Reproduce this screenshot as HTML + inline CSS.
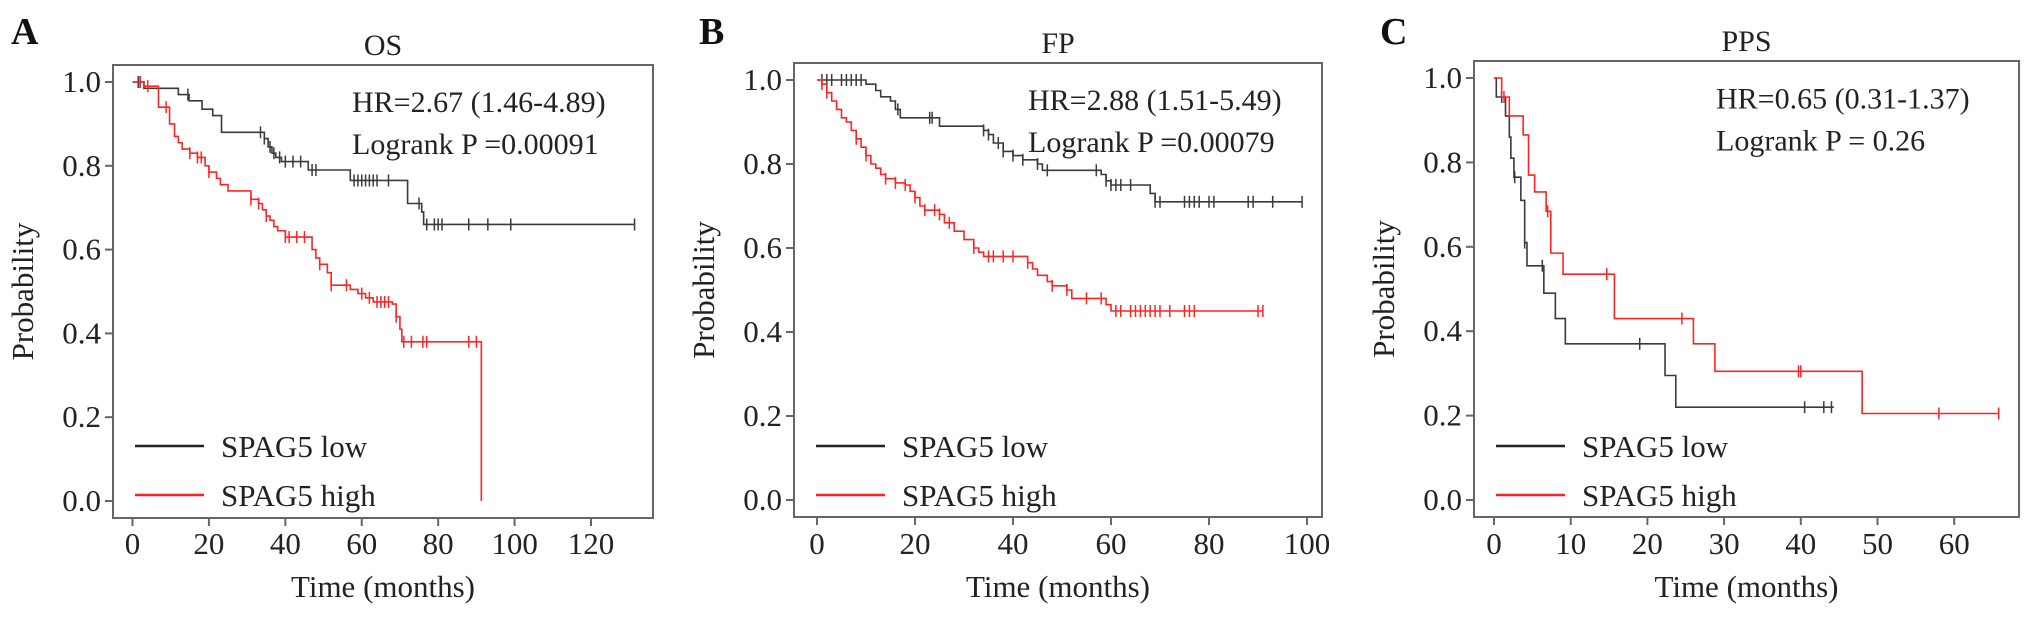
<!DOCTYPE html>
<html><head><meta charset="utf-8">
<style>
html,body{margin:0;padding:0;background:#fff;}
svg{display:block;font-family:"Liberation Serif",serif;}
</style></head>
<body>
<svg id="fig" width="2031" height="624" viewBox="0 0 2031 624" xmlns="http://www.w3.org/2000/svg"></svg>
<script>
// ---------- Panel A (OS) data ----------
const aLowTimes = [0,3,12,14.8,18.2,21,23.3,34.5,35.5,36.5,37.5,39,46,57,72,75.7,76.2];
const aLowSurv  = [1,0.985,0.97,0.955,0.935,0.92,0.88,0.865,0.845,0.83,0.82,0.81,0.79,0.765,0.71,0.69,0.66];
const aLowEnd = 131.4;
const aLowCens = [1.5,2,14.5,33.5,34.5,36,37,38.5,40,42,44,47,48,58,59,60,61,62,63,64,67,75,77,79,80,81,88,93,99,131.4];
const aHighTimes = [0,3,6.8,9.7,11,12,13,15,17,19,20,22,23,25,31,33,34,35,36,37,38,40,47,48,49,51,52,57,59,61,63,68,69,70,70.5,91.3];
const aHighSurv  = [1,0.99,0.94,0.9,0.87,0.855,0.84,0.83,0.82,0.8,0.785,0.77,0.755,0.74,0.72,0.71,0.695,0.68,0.67,0.655,0.645,0.63,0.6,0.58,0.565,0.545,0.515,0.505,0.495,0.485,0.475,0.47,0.44,0.41,0.38,0];
const aHighEnd = 91.3;
const aHighCens = [2,4,8.8,15,17,18,20,31,33,35,40,41,43,45,49,52,56,60,62,64,65,66,67,69,71,73,76,77,88,90];

// ---------- Panel B (FP) data ----------
const bLowTimes = [0,10,12,13,15,16,17,25,34,35,36,38,40,42,45,46,58,59,60,68,69];
const bLowSurv  = [1,0.99,0.975,0.96,0.95,0.93,0.91,0.89,0.88,0.87,0.85,0.83,0.82,0.81,0.8,0.785,0.775,0.76,0.75,0.73,0.71];
const bLowEnd = 99;
const bLowCens = [1,2,3,5,6,7,8,9,16.5,23,23.5,34,35,37,38,40,42,45,47,57,59,60,61,62,64,69,70,75,76,77,78,80,81,88,89,93,99];
const bHighTimes = [0,1,2,3,4,5,6,7,8,9,10,11,12,13,14,16,18,19,20,21,22,25,26,28,30,32,33,34,43,44,45,47,48,51,52,59,60];
const bHighSurv  = [1,0.99,0.97,0.95,0.93,0.91,0.9,0.88,0.86,0.84,0.82,0.8,0.79,0.775,0.765,0.755,0.75,0.735,0.72,0.7,0.69,0.68,0.66,0.64,0.62,0.6,0.59,0.58,0.565,0.55,0.535,0.52,0.51,0.5,0.48,0.465,0.45];
const bHighEnd = 91;
const bHighCens = [1,2,8,10,14,16,18,20,22,24,25,27,32,35,36,38,40,43,48,51,55,58,61,62,64,65,66,67,68,69,70,72,75,76,77,90,91];

// ---------- Panel C (PPS) data ----------
const cLowTimes = [0,0.3,1.5,2,2.2,2.6,3.5,4,4.3,6.5,8,9.3,22.3,23.7];
const cLowSurv  = [1,0.955,0.91,0.86,0.81,0.765,0.71,0.61,0.555,0.49,0.43,0.37,0.295,0.22];
const cLowEnd = 44.3;
const cLowCens = [1,2.7,4,6.3,19,40.5,43,44];
const cHighTimes = [0,1,2,3.8,4.5,5.3,6.8,7.4,9,15.7,26,28.8,48];
const cHighSurv  = [1,0.955,0.91,0.865,0.77,0.73,0.684,0.585,0.535,0.43,0.37,0.305,0.205];
const cHighEnd = 65.8;
const cHighCens = [1.3,7,14.7,24.5,39.7,40,58,65.8];

// ---------- axis ticks ----------
const yTicks = [0,0.2,0.4,0.6,0.8,1.0];
const aXTicks = [0,20,40,60,80,100,120];
const bXTicks = [0,20,40,60,80,100];
const cXTicks = [0,10,20,30,40,50,60];

const NS = "http://www.w3.org/2000/svg";
const svg = document.getElementById('fig');
function mk(tag, attrs, parent){
  const e = document.createElementNS(NS, tag);
  for (const k in attrs) e.setAttribute(k, attrs[k]);
  (parent||svg).appendChild(e);
  return e;
}
function survAt(times, surv, t){
  let v = surv[0];
  for (let i=0;i<times.length;i++){ if (times[i] <= t) v = surv[i]; }
  return v;
}

const panels = [
  {key:'a', letter:'A', title:'OS', lx:11, box:[113,65,653,518], x0:132.5, xs:(591-132.5)/120, y0:501, y1:82,
   xticks:aXTicks, hr:'HR=2.67 (1.46-4.89)', lr:'Logrank P =0.00091', hrx:352,
   low:[aLowTimes,aLowSurv,aLowEnd,aLowCens], high:[aHighTimes,aHighSurv,aHighEnd,aHighCens]},
  {key:'b', letter:'B', title:'FP', lx:699, box:[794,63,1322,517], x0:817, xs:4.9, y0:500, y1:80,
   xticks:bXTicks, hr:'HR=2.88 (1.51-5.49)', lr:'Logrank P =0.00079', hrx:1028,
   low:[bLowTimes,bLowSurv,bLowEnd,bLowCens], high:[bHighTimes,bHighSurv,bHighEnd,bHighCens]},
  {key:'c', letter:'C', title:'PPS', lx:1380, box:[1474,61,2019,517], x0:1494, xs:7.67, y0:500, y1:78,
   xticks:cXTicks, hr:'HR=0.65 (0.31-1.37)', lr:'Logrank P = 0.26', hrx:1716,
   low:[cLowTimes,cLowSurv,cLowEnd,cLowCens], high:[cHighTimes,cHighSurv,cHighEnd,cHighCens]}
];

panels.forEach(p=>{
  const g = mk('g',{});
  
  
  const X = t => p.x0 + t*p.xs;
  const Y = v => p.y0 - v*(p.y0-p.y1);
  const [bl,bt,br,bb] = p.box;

  const letter = mk('text',{x:p.lx, y:44, 'font-size':38, 'font-weight':'bold', fill:'#111'}, g);
  letter.textContent = p.letter;
  
  

  const title = mk('text',{x:(bl+br)/2, y:bt-10, 'font-size':30, 'text-anchor':'middle', fill:'#222'}, g);
  title.textContent = p.title;
  
  

  const frame = mk('rect',{x:bl, y:bt, width:br-bl, height:bb-bt, fill:'none', stroke:'#666', 'stroke-width':2}, g);
  
  

  yTicks.forEach(v=>{
    const tk = mk('line',{x1:bl-8, x2:bl, y1:Y(v), y2:Y(v), stroke:'#666', 'stroke-width':2}, g);
    
    
    const lb = mk('text',{x:bl-12, y:Y(v)+10, 'font-size':31, 'text-anchor':'end', fill:'#222'}, g);
    lb.textContent = v.toFixed(1);
    
    
  });
  p.xticks.forEach(t=>{
    const tk = mk('line',{x1:X(t), x2:X(t), y1:bb, y2:bb+8, stroke:'#666', 'stroke-width':2}, g);
    
    
    const lb = mk('text',{x:X(t), y:554, 'font-size':31, 'text-anchor':'middle', fill:'#222'}, g);
    lb.textContent = String(t);
    
    
  });

  const xt = mk('text',{x:(bl+br)/2, y:597, 'font-size':31, 'text-anchor':'middle', fill:'#222'}, g);
  xt.textContent = 'Time (months)';
  
  
  const cy = (bt+bb)/2;
  const yt = mk('text',{x:0, y:0, 'font-size':31, 'text-anchor':'middle', fill:'#222', transform:`translate(${bl-80},${cy}) rotate(-90)`}, g);
  yt.textContent = 'Probability';
  
  

  const hr = mk('text',{x:p.hrx, y:Y(0.952)+10, 'font-size':30, fill:'#222'}, g);
  hr.textContent = p.hr;
  
  
  const lr = mk('text',{x:p.hrx, y:Y(0.852)+10, 'font-size':30, fill:'#222'}, g);
  lr.textContent = p.lr;
  
  

  [['low','#3a3a3a',p.low],['high','#ff2424',p.high]].forEach(([nm,col,s])=>{
    const [times,surv,end,cens] = s;
    let d = `M${X(times[0])},${Y(surv[0])}`;
    for (let i=1;i<times.length;i++){
      d += ` H${X(times[i])} V${Y(surv[i])}`;
    }
    d += ` H${X(end)}`;
    const path = mk('path',{d:d, fill:'none', stroke:col, 'stroke-width':1.6}, g);
    
    
    cens.forEach(t=>{
      const v = survAt(times,surv,t);
      const c = mk('line',{x1:X(t), x2:X(t), y1:Y(v)-6, y2:Y(v)+6, stroke:col, 'stroke-width':1.5}, g);
      
      
    });
  });

  // legend
  const lgx = bl+22;
  [['low','#222','SPAG5 low',446],['high','#ff2020','SPAG5 high',495]].forEach(([nm,col,txt,ly])=>{
    const ln = mk('line',{x1:lgx, x2:lgx+69, y1:ly, y2:ly, stroke:col, 'stroke-width':2.5}, g);
    
    
    const tx = mk('text',{x:lgx+86, y:ly+11, 'font-size':31, fill:'#222'}, g);
    tx.textContent = txt;
    
    
  });
});
</script>
</body></html>
